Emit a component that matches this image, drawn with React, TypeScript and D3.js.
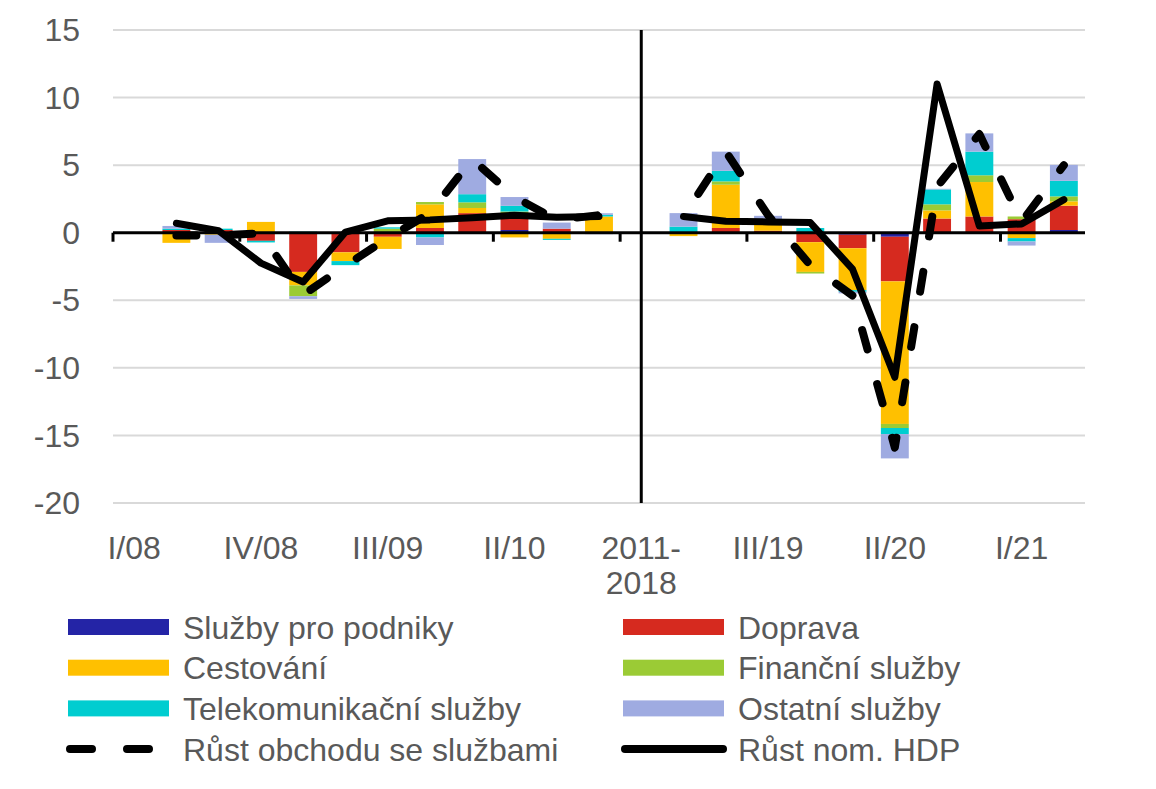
import * as React from 'react';
import * as d3 from 'd3';

const categories = ['I/08', 'II/08', 'III/08', 'IV/08', 'I/09', 'II/09', 'III/09', 'IV/09',
  'I/10', 'II/10', 'III/10', 'IV/10', '2011-2018', 'I/19', 'II/19', 'III/19', 'IV/19',
  'I/20', 'II/20', 'III/20', 'IV/20', 'I/21', 'II/21'];

const sluzbyProPodniky = [0, 0, 0, 0, 0, 0, 0, 0, 0, 0.2, 0.05, -0.1, 0, 0, 0, 0, 0, -0.15, -0.3, 0, 0, 0, 0.2];
const doprava = [0, 0.2, 0.2, -0.6, -2.9, -1.45, -0.3, 0.35, 1.45, 1.25, 0.25, 0, 0, 0, 0.35, 0.15, -0.7, -1.0, -3.3, 1.05, 1.2, 1.0, 1.8];
const cestovani = [0, -0.75, -0.15, 0.8, -1.0, -0.65, -0.9, 1.75, 0.38, -0.35, -0.45, 1.2, 0, -0.25, 3.2, 0.6, -2.2, -3.1, -10.55, 0.6, 2.55, -0.4, 0.32];
const financni = [0, 0, 0, 0, -0.8, 0, 0.3, 0.17, 0.42, 0.12, 0, 0, 0, 0, 0.25, 0.05, -0.12, 0, -0.3, 0.45, 0.5, 0.2, 0.37];
const telekom = [0, 0.1, 0.1, -0.12, 0.08, -0.3, 0.1, -0.35, 0.6, 0.42, -0.08, 0.12, 0, 0.45, 0.78, 0.15, 0.35, -0.12, -0.45, 1.1, 1.75, -0.25, 1.15];
const ostatni = [0, 0.2, -0.6, 0, -0.2, 0, 0, -0.56, 2.6, 0.65, 0.45, 0.12, 0, 1.0, 1.42, 0.3, 0, -0.12, -1.8, 0.05, 1.35, -0.3, 1.18];

const rustObchodu = [null, -0.2, -0.2, -0.05, -4.6, -2.45, -0.4, 1.45, 5.45, 2.65, 0.95, 1.3, null, 1.2, 6.0, 1.3, -2.4, -4.65, -15.9, 3.4, 7.3, 0.8, 5.0];
const rustHdp = [null, 0.7, 0.15, -2.25, -3.65, 0.05, 0.88, 0.95, 1.1, 1.3, 1.15, 1.2, null, 1.2, 0.85, 0.8, 0.75, -2.7, -10.7, 11.0, 0.5, 0.65, 2.45];

const yTicks = [15, 10, 5, 0, -5, -10, -15, -20];

const series = [
  { key: 'Služby pro podniky', values: sluzbyProPodniky, color: '#2424A6' },
  { key: 'Doprava', values: doprava, color: '#D62A1F' },
  { key: 'Cestování', values: cestovani, color: '#FFC000' },
  { key: 'Finanční služby', values: financni, color: '#9BCB35' },
  { key: 'Telekomunikační služby', values: telekom, color: '#00CDD0' },
  { key: 'Ostatní služby', values: ostatni, color: '#9FABE1' },
];

const font = '"Liberation Sans", Arial, sans-serif';
const textColor = '#595959';
const fontSize = 32;
const dash = 20;
const gap = 36;

export default function App() {
  const width = 1156;
  const height = 789;
  const left = 113;
  const right = 1085;

  const x = d3.scaleBand().domain(categories).range([left, right]);
  const y = d3.scaleLinear().domain([-20, 15]).range([503, 30]);
  const bw = x.bandwidth() * 0.66;
  const cx = (c: string) => (x(c) as number) + x.bandwidth() / 2;

  const rows = categories.map((c, i) => {
    const r: any = { cat: c };
    series.forEach(s => { r[s.key] = s.values[i]; });
    return r;
  });
  const stacked = d3.stack().keys(series.map(s => s.key)).offset(d3.stackOffsetDiverging)(rows);

  const line = d3.line<number | null>()
    .defined(d => d != null)
    .x((d, i) => cx(categories[i]))
    .y(d => y(d as number));

  // dashed line: split into runs; in the 2019+ run put a dash on the deepest point
  const runs: { idx: number[] }[] = [];
  let cur: number[] = [];
  rustObchodu.forEach((v, i) => {
    if (v == null) { if (cur.length) runs.push({ idx: cur }); cur = []; } else cur.push(i);
  });
  if (cur.length) runs.push({ idx: cur });
  const dashedRuns = runs.map((r, ri) => {
    const pts = r.idx.map(i => [cx(categories[i]), y(rustObchodu[i] as number)]);
    const d = d3.line()(pts as [number, number][]) as string;
    let offset = 0;
    if (ri === 1) {
      let minK = 0;
      r.idx.forEach((i, k) => { if ((rustObchodu[i] as number) < (rustObchodu[r.idx[minK]] as number)) minK = k; });
      let L = 0;
      for (let k = 1; k <= minK; k++) L += Math.hypot(pts[k][0] - pts[k - 1][0], pts[k][1] - pts[k - 1][1]);
      const period = dash + gap;
      offset = (((dash / 2 - L) % period) + period) % period;
    }
    return { d, offset };
  });

  const breakX = cx('2011-2018');

  const legend = [
    { label: 'Služby pro podniky', color: series[0].color, type: 'bar' },
    { label: 'Doprava', color: series[1].color, type: 'bar' },
    { label: 'Cestování', color: series[2].color, type: 'bar' },
    { label: 'Finanční služby', color: series[3].color, type: 'bar' },
    { label: 'Telekomunikační služby', color: series[4].color, type: 'bar' },
    { label: 'Ostatní služby', color: series[5].color, type: 'bar' },
    { label: 'Růst obchodu se službami', color: '#000', type: 'dash' },
    { label: 'Růst nom. HDP', color: '#000', type: 'line' },
  ];

  return (
    <svg width={width} height={height} style={{ position: 'absolute', left: 0, top: 0, background: '#fff' }}
      fontFamily={font}>
      {/* gridlines */}
      {yTicks.filter(t => t !== 0).map(t => (
        <line key={t} x1={left} x2={right} y1={y(t)} y2={y(t)} stroke="#d9d9d9" strokeWidth={2} />
      ))}
      {yTicks.map(t => (
        <text key={t} x={80} y={y(t)} dy="0.35em" textAnchor="end" fontSize={fontSize} fill={textColor}>{t}</text>
      ))}

      {/* bars */}
      {stacked.map((layer, si) => (
        <g key={layer.key} fill={series[si].color}>
          {layer.map((d, i) => d[1] - d[0] === 0 ? null : (
            <rect key={i} x={cx(categories[i]) - bw / 2} width={bw}
              y={y(Math.max(d[0], d[1]))} height={Math.abs(y(d[0]) - y(d[1]))} />
          ))}
        </g>
      ))}

      {/* zero axis */}
      <line x1={left} x2={right} y1={y(0)} y2={y(0)} stroke="#000" strokeWidth={3} />
      {categories.map((c, i) => i % 3 === 0 ? (
        <line key={c} x1={x(c) as number} x2={x(c) as number} y1={y(0)} y2={y(0) + 9} stroke="#000" strokeWidth={3} />
      ) : null)}
      <line x1={breakX} x2={breakX} y1={y(15)} y2={y(-20)} stroke="#000" strokeWidth={3} />

      {/* lines */}
      {dashedRuns.map((r, i) => (
        <path key={i} d={r.d} fill="none" stroke="#000" strokeWidth={8}
          strokeDasharray={`${dash} ${gap}`} strokeDashoffset={r.offset}
          strokeLinecap="round" strokeLinejoin="round" />
      ))}
      <path d={line(rustHdp) as string} fill="none" stroke="#000" strokeWidth={7}
        strokeLinecap="round" strokeLinejoin="round" />

      {/* x labels */}
      {categories.map((c, i) => {
        if (i % 3 !== 0) return null;
        const parts = c === '2011-2018' ? ['2011-', '2018'] : [c];
        return (
          <text key={c} x={cx(c)} y={559} textAnchor="middle" fontSize={fontSize} fill={textColor}>
            {parts.map((p, k) => <tspan key={k} x={cx(c)} dy={k === 0 ? 0 : 35}>{p}</tspan>)}
          </text>
        );
      })}

      {/* legend */}
      {legend.map((l, i) => {
        const col = i % 2;
        const row = Math.floor(i / 2);
        const sx = col === 0 ? 68 : 623;
        const ly = 627 + row * 40.7;
        return (
          <g key={l.label}>
            {l.type === 'bar' && <rect x={sx} y={ly - 8} width={101} height={16} fill={l.color} />}
            {l.type === 'dash' && <line x1={sx + 2} x2={sx + 100} y1={ly} y2={ly} stroke="#000" strokeWidth={8}
              strokeDasharray="22 35" strokeLinecap="round" />}
            {l.type === 'line' && <line x1={sx + 2} x2={sx + 100} y1={ly} y2={ly} stroke="#000" strokeWidth={8}
              strokeLinecap="round" />}
            <text x={sx + 115} y={ly} dy="0.36em" fontSize={fontSize} fill={textColor}>{l.label}</text>
          </g>
        );
      })}
    </svg>
  );
}
